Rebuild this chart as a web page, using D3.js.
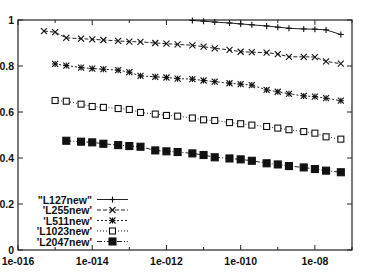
<!DOCTYPE html>
<html>
<head>
<meta charset="utf-8">
<script src="https://cdn.jsdelivr.net/npm/d3@7"></script>
<style>
  body { margin: 0; background: #fff; }
  svg text { font-family: "Liberation Sans", Arial, sans-serif; fill: #111; }
</style>
</head>
<body>
<svg width="380" height="277"></svg>
<script>
// x positions shared by all runs (1-2-5 steps)
const xGrid = [5e-16, 1e-15, 2e-15, 5e-15, 1e-14, 2e-14, 5e-14, 1e-13, 2e-13, 5e-13,
               1e-12, 2e-12, 5e-12, 1e-11, 2e-11, 5e-11, 1e-10, 2e-10, 5e-10, 1e-9,
               2e-9, 5e-9, 1e-8, 2e-8, 5e-8];

const seriesNames = ['"L127new"', "'L255new'", "'L511new'", "'L1023new'", "'L2047new'"];
const seriesStart = [12, 0, 1, 1, 2];   // index into xGrid of first point

const l127 = [0.998, 0.995, 0.991, 0.987, 0.983, 0.979, 0.974, 0.969, 0.964, 0.961, 0.960, 0.957, 0.937];
const l255 = [0.952, 0.947, 0.922, 0.919, 0.916, 0.913, 0.909, 0.906, 0.905, 0.900, 0.897, 0.894, 0.890,
              0.884, 0.877, 0.870, 0.862, 0.860, 0.858, 0.852, 0.840, 0.840, 0.839, 0.820, 0.810];
const l511 = [0.809, 0.802, 0.793, 0.789, 0.786, 0.782, 0.773, 0.757, 0.753, 0.750, 0.745, 0.743,
              0.737, 0.732, 0.725, 0.721, 0.717, 0.696, 0.688, 0.679, 0.670, 0.667, 0.660, 0.649];
const l1023 = [0.650, 0.647, 0.634, 0.624, 0.620, 0.615, 0.611, 0.598, 0.591, 0.585, 0.582, 0.574,
               0.566, 0.563, 0.554, 0.549, 0.543, 0.537, 0.530, 0.523, 0.515, 0.508, 0.492, 0.482];
const l2047 = [0.475, 0.471, 0.468, 0.462, 0.456, 0.452, 0.449, 0.433, 0.429, 0.426, 0.420,
               0.413, 0.403, 0.398, 0.394, 0.388, 0.377, 0.372, 0.365, 0.359, 0.352, 0.345, 0.338];

const xTicks = [1e-16, 1e-15, 1e-14, 1e-13, 1e-12, 1e-11, 1e-10, 1e-9, 1e-8, 1e-7];
const xLabelTicks = [1e-16, 1e-14, 1e-12, 1e-10, 1e-8];
const yTicks = [0, 0.2, 0.4, 0.6, 0.8, 1];

const svg = d3.select("svg");
const plotL = 18, plotR = 352, plotT = 20, plotB = 250;

const x = d3.scaleLog().domain([1e-16, 1e-7]).range([plotL, plotR]);
const y = d3.scaleLinear().domain([0, 1]).range([plotB, plotT]);

const ink = "#222";
const allSeries = [l127, l255, l511, l1023, l2047];
const dashes = [null, "4,2", "2,2", "1,2", "5,2,1,2"];
const markers = ["plus", "cross", "star", "square", "filled"];

// frame
svg.append("rect")
  .attr("x", plotL).attr("y", plotT)
  .attr("width", plotR - plotL).attr("height", plotB - plotT)
  .attr("fill", "none").attr("stroke", ink).attr("stroke-width", 1.2);

// ticks, drawn inward on all four sides
const fmtX = d => "1e-0" + Math.round(-Math.log10(d));
const tickG = svg.append("g").attr("stroke", ink).attr("stroke-width", 1);
xTicks.forEach(t => {
  const len = xLabelTicks.includes(t) ? 5 : 3;
  tickG.append("line").attr("x1", x(t)).attr("x2", x(t)).attr("y1", plotB).attr("y2", plotB - len);
  tickG.append("line").attr("x1", x(t)).attr("x2", x(t)).attr("y1", plotT).attr("y2", plotT + len);
});
yTicks.forEach(t => {
  tickG.append("line").attr("x1", plotL).attr("x2", plotL + 5).attr("y1", y(t)).attr("y2", y(t));
  tickG.append("line").attr("x1", plotR).attr("x2", plotR - 5).attr("y1", y(t)).attr("y2", y(t));
});

svg.append("g").selectAll("text")
  .data(xLabelTicks)
  .enter().append("text")
  .attr("x", d => x(d)).attr("y", plotB + 15)
  .attr("text-anchor", "middle")
  .style("font-size", "10.5px").style("font-weight", "bold")
  .text(fmtX);

svg.append("g").selectAll("text")
  .data(yTicks)
  .enter().append("text")
  .attr("x", plotL - 4).attr("y", d => y(d) + 4)
  .attr("text-anchor", "end")
  .style("font-size", "10.5px").style("font-weight", "bold")
  .text(d => d3.format("~g")(d));

function drawMarker(g, type, cx, cy) {
  const s = 3;
  if (type === "plus" || type === "star") {
    g.append("line").attr("x1", cx - s).attr("x2", cx + s).attr("y1", cy).attr("y2", cy);
    g.append("line").attr("x1", cx).attr("x2", cx).attr("y1", cy - s).attr("y2", cy + s);
  }
  if (type === "cross" || type === "star") {
    g.append("line").attr("x1", cx - s).attr("x2", cx + s).attr("y1", cy - s).attr("y2", cy + s);
    g.append("line").attr("x1", cx - s).attr("x2", cx + s).attr("y1", cy + s).attr("y2", cy - s);
  }
  if (type === "square") {
    g.append("rect").attr("x", cx - 3).attr("y", cy - 3).attr("width", 6).attr("height", 6)
      .attr("fill", "#fff");
  }
  if (type === "filled") {
    g.append("rect").attr("x", cx - 3.5).attr("y", cy - 3.5).attr("width", 7).attr("height", 7)
      .attr("fill", "#111");
  }
}

const line = d3.line().x(d => x(d[0])).y(d => y(d[1]));

allSeries.forEach((vals, k) => {
  const pts = vals.map((v, i) => [xGrid[seriesStart[k] + i], v]);
  svg.append("path")
    .datum(pts)
    .attr("d", line)
    .attr("fill", "none")
    .attr("stroke", ink)
    .attr("stroke-width", 1)
    .attr("stroke-dasharray", dashes[k]);
  const g = svg.append("g").attr("stroke", "#111").attr("stroke-width", 1.1);
  pts.forEach(p => drawMarker(g, markers[k], x(p[0]), y(p[1])));
});

// legend
const legY = [199.5, 210, 220.5, 231, 241.5];
seriesNames.forEach((name, k) => {
  svg.append("text")
    .attr("x", 92).attr("y", legY[k] + 4)
    .attr("text-anchor", "end")
    .style("font-size", "10.5px").style("font-weight", "bold")
    .text(name);
  svg.append("line")
    .attr("x1", 97).attr("x2", 128)
    .attr("y1", legY[k]).attr("y2", legY[k])
    .attr("stroke", ink).attr("stroke-width", 1)
    .attr("stroke-dasharray", dashes[k]);
  const g = svg.append("g").attr("stroke", "#111").attr("stroke-width", 1.1);
  drawMarker(g, markers[k], 112.5, legY[k]);
});
</script>
</body>
</html>
